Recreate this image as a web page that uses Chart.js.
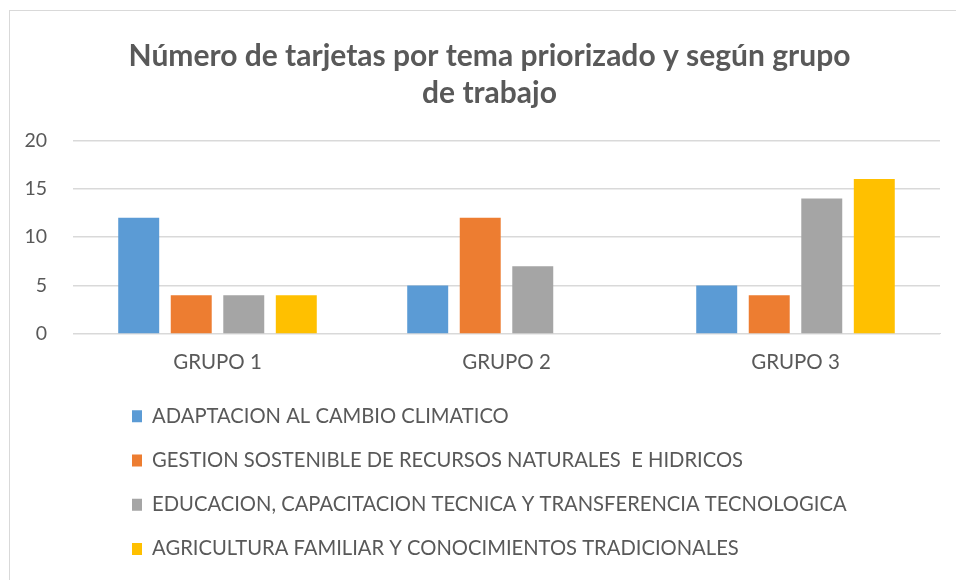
<!DOCTYPE html>
<html>
<head>
<meta charset="utf-8">
<script src="https://cdn.jsdelivr.net/npm/chart.js@4"></script>
<style>
  body { margin: 0; background: #ffffff; }
  #marco {
    position: absolute; left: 9px; top: 10px; width: 947px; height: 570px;
    border-left: 1px solid #d9d9d9; border-top: 1px solid #d9d9d9;
  }
</style>
</head>
<body>
<div id="marco"><canvas id="grafico"></canvas></div>
<script>
const grupos = ["GRUPO 1", "GRUPO 2", "GRUPO 3"];
const temas = [
  "ADAPTACION AL CAMBIO CLIMATICO",
  "GESTION SOSTENIBLE DE RECURSOS NATURALES  E HIDRICOS",
  "EDUCACION, CAPACITACION TECNICA Y TRANSFERENCIA TECNOLOGICA",
  "AGRICULTURA FAMILIAR Y CONOCIMIENTOS TRADICIONALES"
];
const adaptacion = [12, 5, 5];
const gestion = [4, 12, 4];
const educacion = [4, 7, 14];
const agricultura = [4, 0, 16];
const colores = ["#5b9bd5", "#ed7d31", "#a5a5a5", "#ffc000"];
const ticksY = [0, 5, 10, 15, 20];

const series = [adaptacion, gestion, educacion, agricultura];

// coloca leyenda y título como en el original
const ajustarBloques = {
  id: "ajustarBloques",
  beforeDraw: function (chart) {
    if (chart.legend) chart.legend.left = 98;
    if (chart.titleBlock) {
      chart.titleBlock.left = 30;
      chart.titleBlock.right = 929;
    }
  }
};

const ctx = document.getElementById("grafico").getContext("2d");
new Chart(ctx, {
  type: "bar",
  data: {
    labels: grupos,
    datasets: series.map(function (valores, i) {
      return {
        label: temas[i],
        data: valores,
        backgroundColor: colores[i],
        borderWidth: 0,
        categoryPercentage: 0.727,
        barPercentage: 0.78
      };
    })
  },
  options: {
    responsive: true,
    maintainAspectRatio: false,
    animation: false,
    layout: { padding: { left: 0, right: 17, top: 0, bottom: 12 } },
    scales: {
      x: {
        grid: { display: false },
        border: { display: true, color: "#d9d9d9" },
        ticks: { color: "#595959", font: { family: "Lato", size: 20.5, lineHeight: 0.6 }, padding: 14 }
      },
      y: {
        min: 0,
        max: 20,
        afterBuildTicks: function (eje) {
          eje.ticks = ticksY.map(function (v) { return { value: v }; });
        },
        afterFit: function (eje) {
          eje.width = 63;
        },
        grid: { color: "#d9d9d9", lineWidth: 1.5, drawTicks: false },
        border: { display: false },
        ticks: { color: "#595959", font: { family: "Lato", size: 19.5 }, padding: 26 }
      }
    },
    plugins: {
      title: {
        display: true,
        text: ["Número de tarjetas por tema priorizado y según grupo", "de trabajo"],
        color: "#595959",
        font: { family: "Lato", size: 30, weight: "bold", lineHeight: 1.24 },
        padding: { top: 27, bottom: 28 }
      },
      legend: {
        position: "bottom",
        align: "start",
        labels: {
          color: "#595959",
          font: { family: "Lato", size: 20.2 },
          boxWidth: 10,
          boxHeight: 12,
          padding: 24
        }
      },
      tooltip: { enabled: false }
    }
  },
  plugins: [ajustarBloques]
});
</script>
</body>
</html>
